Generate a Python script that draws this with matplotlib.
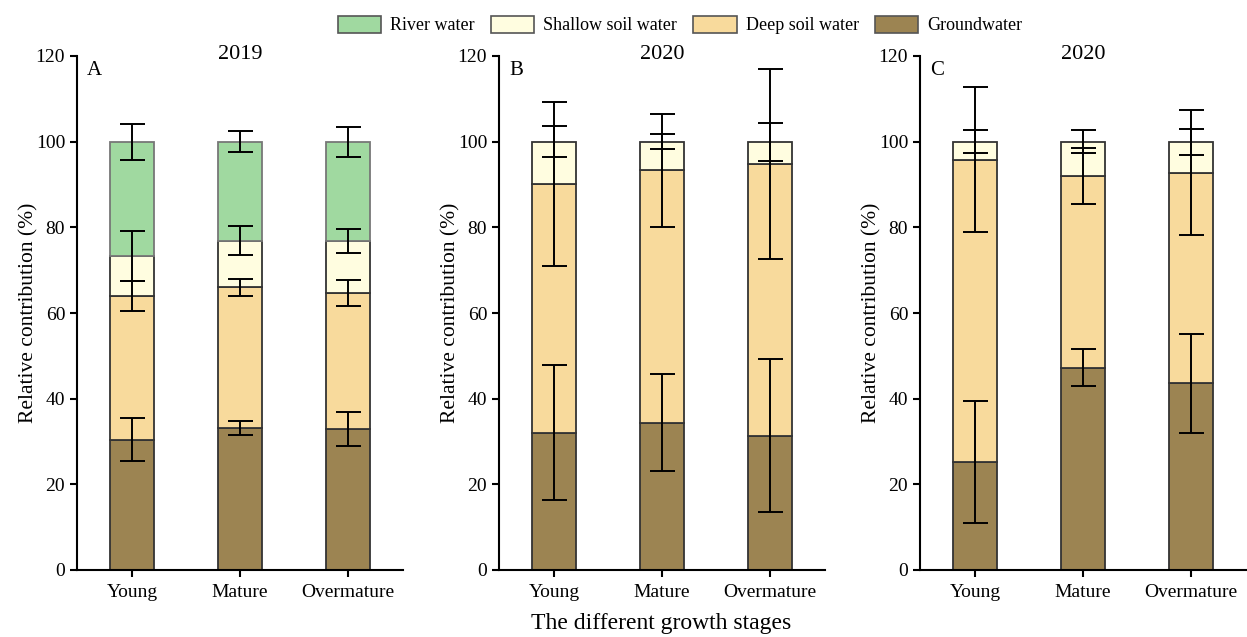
import matplotlib
matplotlib.use("Agg")
import matplotlib.pyplot as plt
import matplotlib.patches as mpatches
import numpy as np

plt.rcParams["font.family"] = ["Liberation Serif", "DejaVu Serif"]

stages = ["Young", "Mature", "Overmature"]
sources = ["Groundwater", "Deep soil water", "Shallow soil water", "River water"]
legend_order = ["River water", "Shallow soil water", "Deep soil water", "Groundwater"]
colors = {"River water": "#a0d9a0", "Shallow soil water": "#fffde0",
          "Deep soil water": "#f8da9c", "Groundwater": "#9c8452"}

# Panel A (2019) contributions (%) per source, stacked bottom -> top
a_ground = [30.4, 33.2, 32.9]
a_deep = [33.6, 32.8, 31.7]
a_shallow = [9.3, 10.9, 12.3]
a_river = [26.7, 23.1, 23.1]
a_err_ground = [5.0, 1.6, 3.9]
a_err_deep = [3.5, 2.0, 3.0]
a_err_shallow = [5.8, 3.3, 2.8]
a_err_river = [4.2, 2.4, 3.5]

# Panel B (2020)
b_ground = [32.1, 34.4, 31.4]
b_deep = [58.0, 58.9, 63.4]
b_shallow = [9.9, 6.7, 5.2]
b_err_ground = [15.7, 11.4, 17.9]
b_err_deep = [19.2, 13.2, 22.1]
b_err_shallow = [3.6, 1.8, 4.4]

# Panel C (2020)
c_ground = [25.2, 47.2, 43.6]
c_deep = [70.6, 44.8, 49.2]
c_shallow = [4.2, 8.0, 7.2]
c_err_ground = [14.3, 4.3, 11.6]
c_err_deep = [16.9, 6.5, 14.6]
c_err_shallow = [2.7, 2.7, 3.0]

panels = [
    ("A", "2019", [a_ground, a_deep, a_shallow, a_river],
     [a_err_ground, a_err_deep, a_err_shallow, a_err_river]),
    ("B", "2020", [b_ground, b_deep, b_shallow],
     [b_err_ground, b_err_deep, b_err_shallow]),
    ("C", "2020", [c_ground, c_deep, c_shallow],
     [c_err_ground, c_err_deep, c_err_shallow]),
]

W, H = 1247, 637
fig = plt.figure(figsize=(W / 100, H / 100), dpi=100)
lefts = [77, 499, 920]
ax_w = 326
bottom_px, top_px = 570, 56
ax_h = bottom_px - top_px

x = np.arange(len(stages))
for (letter, year, vals, errs), lp in zip(panels, lefts):
    ax = fig.add_axes([lp / W, 1 - bottom_px / H, ax_w / W, ax_h / H])
    base = np.zeros(len(stages))
    for src, v, e in zip(sources, vals, errs):
        v = np.array(v)
        edge = "#777777" if src == "River water" else "#333333"
        ax.bar(x, v, bottom=base, width=0.41, color=colors[src],
               edgecolor=edge, linewidth=1.3, zorder=2)
        base = base + v
        ax.errorbar(x, base, yerr=e, fmt="none", ecolor="black",
                    elinewidth=1.4, capsize=9, capthick=1.4, zorder=3)
    ax.set_xlim(-0.51, 2.51)
    ax.set_ylim(0, 120)
    ax.set_yticks(range(0, 121, 20))
    ax.set_xticks(x)
    ax.set_xticklabels(stages)
    for s in ["top", "right"]:
        ax.spines[s].set_visible(False)
    for s in ["left", "bottom"]:
        ax.spines[s].set_linewidth(1.5)
    ax.tick_params(axis="both", labelsize=14, width=1.5, length=5)
    ax.tick_params(axis="x", pad=5)
    ax.set_ylabel("Relative contribution (%)", fontsize=15.5, labelpad=-2)
    ax.text(10 / ax_w, 1 - 19 / ax_h, letter, transform=ax.transAxes,
            fontsize=15, va="baseline")
    ax.text(0.5, 1 - 3 / ax_h, year, transform=ax.transAxes, fontsize=16,
            ha="center", va="baseline")

fig.text(661 / W, 1 - 624 / H, "The different growth stages", ha="center",
         va="center", fontsize=17)

handles = [mpatches.Patch(facecolor=colors[k], edgecolor="#555555", linewidth=1.2,
                          label=k) for k in legend_order]
fig.legend(handles=handles, loc="center", bbox_to_anchor=(680 / W, 1 - 25 / H),
           ncol=4, frameon=False, fontsize=13, handlelength=2.4, handleheight=1.1,
           columnspacing=0.9, handletextpad=0.5)

fig.savefig("out.png", dpi=100)
